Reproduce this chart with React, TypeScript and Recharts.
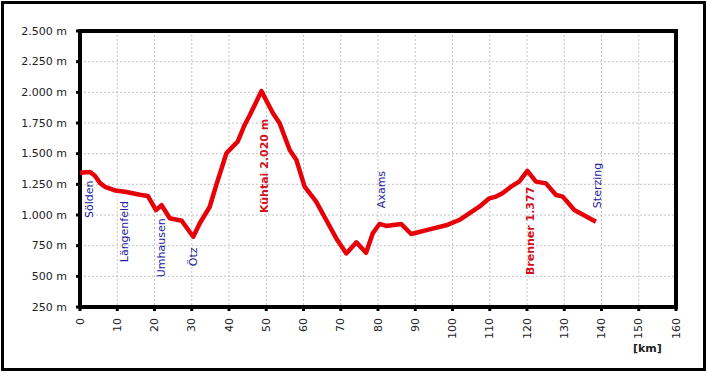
import React from 'react';
import {
    LineChart,
    Line,
    XAxis,
    YAxis,
    CartesianGrid,
    ReferenceArea,
    ReferenceDot,
} from 'recharts';

// route profile Sölden - Kühtai - Brenner - Sterzing
const distanceKm = [
    0, 2.7, 4, 5.4, 6.7, 9.4, 12.1, 16.1, 18.2, 20.4, 21.9, 24.1, 27.3, 30.4, 32.2, 34.8, 36.6, 39.3,
    41, 42.3, 44.2, 45.6, 48.7, 51.8, 53.6, 56.3, 58.1, 60.3, 63.4, 66.1, 68.8, 71.5, 74.2, 76.8, 78.6,
    80.4, 82.2, 86.2, 88.9, 93.8, 98.3, 101.8, 104.5, 107.2, 109.9, 111.7, 113.4, 115.7, 117.9, 120.1,
    122.4, 125.1, 127.8, 129.6, 132.7, 138.5,
];
const elevationM = [
    1345, 1350, 1320, 1260, 1230, 1200, 1190, 1165, 1155, 1040, 1080, 973, 953, 823, 935, 1065, 1245, 1503,
    1557, 1597, 1734, 1815, 2010, 1829, 1747, 1530, 1448, 1231, 1109, 959, 809, 687, 777, 692, 851,
    927, 911, 927, 845, 883, 916, 959, 1014, 1068, 1136, 1150, 1177, 1231, 1272, 1360,
    1272, 1258, 1163, 1150, 1041, 945,
];

const kmTicks = [0, 10, 20, 30, 40, 50, 60, 70, 80, 90, 100, 110, 120, 130, 140, 150, 160];
const elevTicks = [250, 500, 750, 1000, 1250, 1500, 1750, 2000, 2250, 2500];

const placeNames = ['Sölden', 'Längenfeld', 'Umhausen', 'Ötz', 'Kühtai 2.020 m', 'Axams', 'Brenner 1.377', 'Sterzing'];
const placeKm = [2.55, 11.9, 21.9, 30.5, 49.5, 80.9, 120.9, 138.9];
const placeElev = [975, 615, 493, 583, 1016, 1056, 510, 1056];
const placeIsPass = [false, false, false, false, true, false, true, false];

const data = distanceKm.map((km, i) => ({ km, elev: elevationM[i] }));

const FONT = '"DejaVu Sans", Verdana, sans-serif';

const fmtElev = (v: number) => {
    const s = String(v);
    return (s.length > 3 ? s.slice(0, -3) + '.' + s.slice(-3) : s) + ' m';
};

const XTick = (props: any) => {
    const { x, y, payload } = props;
    const ty = y + 3;
    return (
        <text
            x={x}
            y={ty}
            transform={`rotate(-90 ${x} ${ty})`}
            textAnchor="end"
            dominantBaseline="central"
            fontFamily={FONT}
            fontSize={11}
            fill="#222"
        >
            {payload.value}
        </text>
    );
};

const YTick = (props: any) => {
    const { x, y, payload } = props;
    return (
        <text x={x} y={y} textAnchor="end" dominantBaseline="central" fontFamily={FONT} fontSize={11} fill="#222">
            {fmtElev(payload.value)}
        </text>
    );
};

const placeShape = (name: string, pass: boolean) => (props: any) => {
    const { cx, cy } = props;
    return (
        <text
            x={cx}
            y={cy}
            transform={`rotate(-90 ${cx} ${cy})`}
            textAnchor="start"
            dominantBaseline="central"
            fontFamily={FONT}
            fontSize={11}
            fontWeight={pass ? 'bold' : 'normal'}
            fill={pass ? '#d4101c' : '#2020a0'}
        >
            {name}
        </text>
    );
};

export default function App() {
    return (
        <div style={{ position: 'absolute', left: 0, top: 0, width: 707, height: 373, background: '#fff' }}>
            <div
                style={{
                    position: 'absolute',
                    left: 1,
                    top: 1,
                    width: 705,
                    height: 370,
                    boxSizing: 'border-box',
                    border: '3px solid #000',
                }}
            />
            <LineChart
                width={707}
                height={373}
                data={data}
                margin={{ top: 31, right: 31, bottom: 0, left: 0 }}
                style={{ position: 'absolute', left: 0, top: 0 }}
            >
                <CartesianGrid stroke="#c4c4c4" strokeDasharray="2 2" />
                <XAxis
                    dataKey="km"
                    type="number"
                    domain={[0, 160]}
                    ticks={kmTicks}
                    interval={0}
                    axisLine={false}
                    tickLine={{ stroke: '#000', strokeWidth: 3 }}
                    tickSize={4}
                    tickMargin={4}
                    tick={<XTick />}
                    height={66}
                />
                <YAxis
                    type="number"
                    domain={[250, 2500]}
                    ticks={elevTicks}
                    interval={0}
                    axisLine={false}
                    tickLine={{ stroke: '#000', strokeWidth: 3 }}
                    tickSize={4}
                    tickMargin={9}
                    tick={<YTick />}
                    width={80}
                />
                <ReferenceArea x1={0} x2={160} y1={250} y2={2500} fill="none" stroke="#000" strokeWidth={4} />
                <Line
                    type="linear"
                    dataKey="elev"
                    stroke="#e60008"
                    strokeWidth={4.5}
                    strokeLinejoin="round"
                    dot={false}
                    isAnimationActive={false}
                />
                {placeNames.map((name, i) => (
                    <ReferenceDot
                        key={name}
                        x={placeKm[i]}
                        y={placeElev[i]}
                        r={0}
                        ifOverflow="visible"
                        shape={placeShape(name, placeIsPass[i])}
                    />
                ))}
            </LineChart>
            <div
                style={{
                    position: 'absolute',
                    left: 633,
                    top: 342,
                    fontFamily: FONT,
                    fontSize: 11,
                    fontWeight: 'bold',
                    color: '#222',
                    lineHeight: '14px',
                }}
            >
                [km]
            </div>
        </div>
    );
}
